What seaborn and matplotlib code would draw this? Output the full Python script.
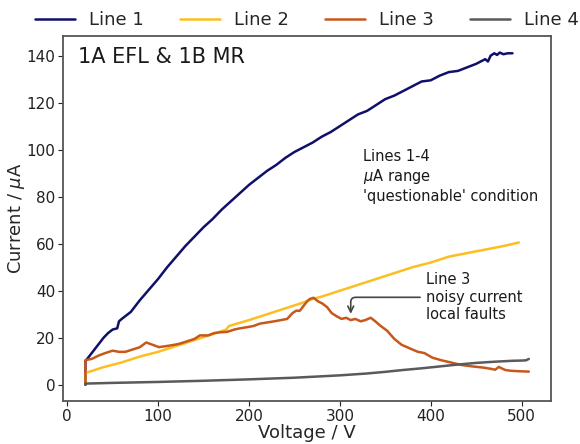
import matplotlib
matplotlib.use("Agg")
import matplotlib.pyplot as plt
import seaborn as sns
import pandas as pd

# Line 1
line1_v = [20, 20, 25, 30, 35, 40, 45, 50, 55, 57, 60, 65, 70, 75, 80, 90, 100, 110, 120, 130,
           140, 150, 160, 170, 180, 190, 200, 210, 220, 230, 240, 250, 260, 270, 280, 290, 300, 310, 320, 330,
           340, 350, 360, 370, 380, 390, 400, 410, 420, 430, 440, 450, 455, 460, 463, 466, 470, 473, 476, 480,
           485, 490]
line1_i = [0, 10, 12.5, 15, 17.5, 20, 22, 23.5, 24, 27, 28, 29.5, 31, 33.5, 36, 40.5, 45, 50, 54.5, 59,
           63, 67, 70.5, 74.5, 78, 81.5, 85, 88, 91, 93.5, 96.5, 99, 101, 103, 105.5, 107.5, 110, 112.5, 115, 116.5,
           119, 121.5, 123, 125, 127, 129, 129.5, 131.5, 133, 133.5, 135, 136.5, 137.5, 138.5, 137.5, 140, 141, 140.3, 141.3, 140.6,
           141, 141]

# Line 2
line2_v = [20, 20, 40, 60, 80, 100, 120, 140, 160, 175, 178, 200, 220, 240, 260, 270, 280, 300, 320, 340,
           360, 380, 400, 420, 440, 460, 480, 497]
line2_i = [0, 5, 7.5, 9.5, 12, 14, 16.5, 19, 21.5, 23.5, 25, 27.5, 30, 32.5, 35, 36.5, 37.5, 40, 42.5, 45,
           47.5, 50, 52, 54.5, 56, 57.5, 59, 60.5]

# Line 3
line3_v = [20, 20, 27, 35, 42, 50, 57, 64, 72, 80, 87, 94, 101, 110, 118, 124, 132, 140, 146, 155,
           162, 168, 176, 184, 190, 198, 205, 212, 220, 228, 235, 242, 248, 252, 256, 260, 264, 267, 271, 276,
           281, 286, 291, 297, 302, 307, 312, 317, 323, 328, 334, 339, 345, 352, 360, 368, 378, 386, 393, 402,
           412, 422, 434, 446, 458, 466, 471, 475, 478, 482, 487, 495, 508]
line3_i = [0, 10.5, 11, 12.5, 13.5, 14.5, 14, 14, 15, 16, 18, 17, 16, 16.5, 17, 17.5, 18.5, 19.5, 21, 21,
           22, 22.3, 22.5, 23.5, 24, 24.5, 25, 26, 26.5, 27, 27.5, 28, 30.5, 31.5, 31.5, 33.5, 35.5, 36.5, 37, 35.5,
           34.5, 33, 30.5, 29, 28, 28.5, 27.5, 28, 27, 27.5, 28.5, 27, 25, 23, 19.5, 17, 15.3, 14, 13.5, 11.5,
           10.4, 9.5, 8.4, 7.8, 7.3, 6.8, 6.4, 7.6, 7, 6.3, 6, 5.8, 5.6]

# Line 4
line4_v = [20, 20, 50, 100, 150, 200, 250, 300, 330, 350, 370, 390, 410, 430, 450, 470, 490, 500, 505, 508]
line4_i = [0, 0.5, 0.8, 1.2, 1.7, 2.3, 3.0, 4.0, 4.8, 5.5, 6.3, 7.0, 7.8, 8.6, 9.3, 9.8, 10.2, 10.3, 10.4, 11.0]

labels = ["Line 1", "Line 2", "Line 3", "Line 4"]
colors = ["#10106a", "#fdbf20", "#c8581a", "#5a5a5a"]

sns.set_theme(style="ticks")
plt.rcParams["font.family"] = ["DejaVu Sans"]

fig = plt.figure(figsize=(5.8, 4.44), dpi=100)
ax = fig.add_axes([0.109, 0.096, 0.841, 0.823])

series = [(line1_v, line1_i), (line2_v, line2_i), (line3_v, line3_i), (line4_v, line4_i)]
for (v, i), lab, c in zip(series, labels, colors):
    df = pd.DataFrame({"v": v, "i": i})
    sns.lineplot(data=df, x="v", y="i", ax=ax, color=c, label=lab, lw=1.8,
                 estimator=None, sort=False)

ax.set_xlabel("Voltage / V", fontsize=13, labelpad=0)
ax.set_ylabel("Current / $\\mu$A", fontsize=13, labelpad=0)
ax.tick_params(labelsize=11, length=3.5, pad=2, width=0.8, colors="#222222")
ax.set_xticks([0, 100, 200, 300, 400, 500])
ax.set_yticks([0, 20, 40, 60, 80, 100, 120, 140])
for s in ax.spines.values():
    s.set_color("#555555")
    s.set_linewidth(1.3)

ax.text(0.03, 0.97, "1A EFL & 1B MR", transform=ax.transAxes, fontsize=15,
        va="top", ha="left", color="#1a1a1a")
ax.text(325, 88.6, "Lines 1-4\n$\\mu$A range\n'questionable' condition",
        fontsize=10.5, va="center", ha="left", color="#1a1a1a")
ax.annotate("Line 3\nnoisy current\nlocal faults", xy=(312, 29), xytext=(395, 37.2),
            fontsize=10.5, va="center", ha="left", color="#1a1a1a",
            arrowprops=dict(arrowstyle="->", color="#444444", lw=1.2,
                            connectionstyle="angle,angleA=0,angleB=90,rad=5"))

ax.legend(loc="lower center", bbox_to_anchor=(0.5, 0.975), ncol=4, frameon=False,
          fontsize=13, handlelength=2.2)

fig.savefig("out.png", dpi=100)
